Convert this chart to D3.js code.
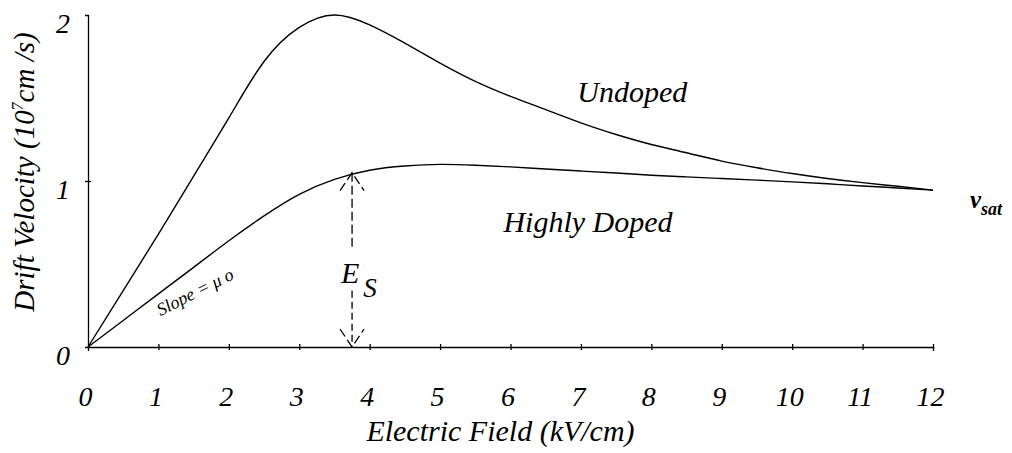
<!DOCTYPE html>
<html>
<head>
<meta charset="utf-8">
<script src="https://cdn.jsdelivr.net/npm/d3@7"></script>
<style>
  body { margin: 0; background: #fff; }
  svg { display: block; font-family: "Liberation Serif", "Times New Roman", serif; }
  .axis path, .axis line { stroke: #000; stroke-width: 1.3; }
  .axis text { font-family: "Liberation Serif", "Times New Roman", serif; font-style: italic; fill: #000; }
</style>
</head>
<body>
<div id="chart"></div>
<script>
    var w = 1012;
    var h = 453;
    var margin = { top: 15, right: 79, bottom: 106, left: 88 };
    var innerW = w - margin.left - margin.right,
        innerH = h - margin.top - margin.bottom;

    // data
    var xTicks = [0, 1, 2, 3, 4, 5, 6, 7, 8, 9, 10, 11, 12];
    var yTicks = [0, 1, 2];
    var fieldE = [0, 0.5, 1, 1.5, 2, 2.5, 3, 3.5, 4, 4.5, 5, 5.5, 6, 6.5, 7, 7.5, 8, 8.5, 9, 9.5, 10, 10.5, 11, 11.5, 12];
    var undopedV = [0, 0.34, 0.68, 1.03, 1.38, 1.72, 1.925, 2.0, 1.94, 1.83, 1.71, 1.6, 1.51, 1.43, 1.35, 1.28, 1.22, 1.17, 1.12, 1.08, 1.045, 1.015, 0.99, 0.968, 0.945];
    var dopedV = [0, 0.16, 0.32, 0.48, 0.64, 0.79, 0.92, 1.01, 1.065, 1.09, 1.1, 1.095, 1.085, 1.072, 1.06, 1.048, 1.035, 1.025, 1.015, 1.005, 0.995, 0.983, 0.97, 0.958, 0.945];
    var esField = 3.75;
    var esVelocity = 1.05;

    var x = d3.scaleLinear().domain([0, 12]).range([0, innerW]);
    var y = d3.scaleLinear().domain([0, 2]).range([innerH, 0]);

    var svg = d3.select('#chart').append('svg')
        .attr('width', w)
        .attr('height', h)
        .append('g')
        .attr('transform', 'translate(' + [margin.left, margin.top] + ')');

    // axes
    var xAxis = d3.axisBottom(x).tickValues(xTicks).tickFormat(d3.format('d')).tickSizeOuter(0).tickSize(4);
    var gx = svg.append('g')
        .attr('class', 'x axis')
        .attr('transform', 'translate(' + [0, innerH] + ')')
        .call(xAxis);
    gx.selectAll('.tick line').attr('y1', -3).attr('y2', 3);
    gx.selectAll('.tick text')
        .attr('y', 59).attr('dy', 0).attr('dx', -3)
        .style('font-size', '28px');
    gx.selectAll('.tick').filter(function(d) { return d === 0; })
        .select('line').remove();

    var yAxis = d3.axisLeft(y).tickValues(yTicks).tickFormat(d3.format('d')).tickSizeOuter(0).tickSize(3);
    var gy = svg.append('g')
        .attr('class', 'y axis')
        .call(yAxis);
    gy.selectAll('.tick line').attr('x1', -3).attr('x2', 3);
    gy.selectAll('.tick').filter(function(d) { return d !== 1; })
        .select('line').remove();
    gy.selectAll('.tick text')
        .attr('x', -18).attr('dy', '0.62em')
        .style('font-size', '28px');

    // curves
    var line = d3.line()
        .x(function(d) { return x(d[0]); })
        .y(function(d) { return y(d[1]); })
        .curve(d3.curveNatural);

    svg.append('path')
        .datum(d3.zip(fieldE, undopedV))
        .attr('d', line)
        .attr('fill', 'none')
        .attr('stroke', '#000')
        .attr('stroke-width', 1.4);

    svg.append('path')
        .datum(d3.zip(fieldE, dopedV))
        .attr('d', line)
        .attr('fill', 'none')
        .attr('stroke', '#000')
        .attr('stroke-width', 1.4);

    // E_s double arrow (dashed)
    var ex = x(esField),
        eTop = y(esVelocity),
        eBot = y(0);
    var arrow = svg.append('g')
        .attr('stroke', '#000')
        .attr('stroke-width', 1.3)
        .attr('fill', 'none');
    arrow.append('line')
        .attr('x1', ex).attr('x2', ex)
        .attr('y1', eTop).attr('y2', eTop + 75)
        .attr('stroke-dasharray', '9,4');
    arrow.append('line')
        .attr('x1', ex).attr('x2', ex)
        .attr('y1', eTop + 118).attr('y2', eBot)
        .attr('stroke-dasharray', '7,4');
    arrow.append('path')
        .attr('d', 'M' + (ex - 12) + ',' + (eTop + 18) + 'L' + ex + ',' + eTop + 'L' + (ex + 12) + ',' + (eTop + 18))
        .attr('stroke-dasharray', '9,4');
    arrow.append('path')
        .attr('d', 'M' + (ex - 12) + ',' + (eBot - 18) + 'L' + ex + ',' + eBot + 'L' + (ex + 12) + ',' + (eBot - 18))
        .attr('stroke-dasharray', '9,4');

    svg.append('text')
        .attr('x', ex - 2).attr('y', eTop + 110)
        .attr('text-anchor', 'middle')
        .style('font-style', 'italic')
        .style('font-size', '30px')
        .text('E');
    svg.append('text')
        .attr('x', ex + 18).attr('y', eTop + 124)
        .attr('text-anchor', 'middle')
        .style('font-style', 'italic')
        .style('font-size', '27px')
        .text('S');

    // slope label
    svg.append('text')
        .attr('transform', 'translate(' + [x(1.03), y(0.185)] + ') rotate(-27)')
        .style('font-style', 'italic')
        .style('font-size', '18px')
        .text('Slope = \u03bc o');

    // curve labels
    svg.append('text')
        .attr('x', x(7.73)).attr('y', y(1.476))
        .attr('text-anchor', 'middle')
        .style('font-style', 'italic')
        .style('font-size', '30px')
        .text('Undoped');
    svg.append('text')
        .attr('x', x(7.1)).attr('y', y(0.693))
        .attr('text-anchor', 'middle')
        .style('font-style', 'italic')
        .style('font-size', '30px')
        .text('Highly Doped');

    var vs = svg.append('text')
        .attr('x', innerW + 37).attr('y', y(0.84))
        .style('font-style', 'italic')
        .style('font-weight', 'bold')
        .style('font-size', '25px');
    vs.append('tspan').text('v');
    vs.append('tspan').attr('dy', 7).style('font-size', '18px').text('sat');

    // axis titles
    svg.append('text')
        .attr('x', innerW / 2 - 10).attr('y', innerH + 94)
        .attr('text-anchor', 'middle')
        .style('font-style', 'italic')
        .style('font-size', '30px')
        .text('Electric Field (kV/cm)');

    var yt = svg.append('text')
        .attr('transform', 'translate(' + [-54, innerH / 2 - 9] + ') rotate(-90)')
        .attr('text-anchor', 'middle')
        .style('font-style', 'italic')
        .style('font-size', '29px');
    yt.append('tspan').text('Drift Velocity (10');
    yt.append('tspan').attr('dy', -11).style('font-size', '16px').text('7');
    yt.append('tspan').attr('dy', 11).text('cm  /s)');
</script>
</body>
</html>
